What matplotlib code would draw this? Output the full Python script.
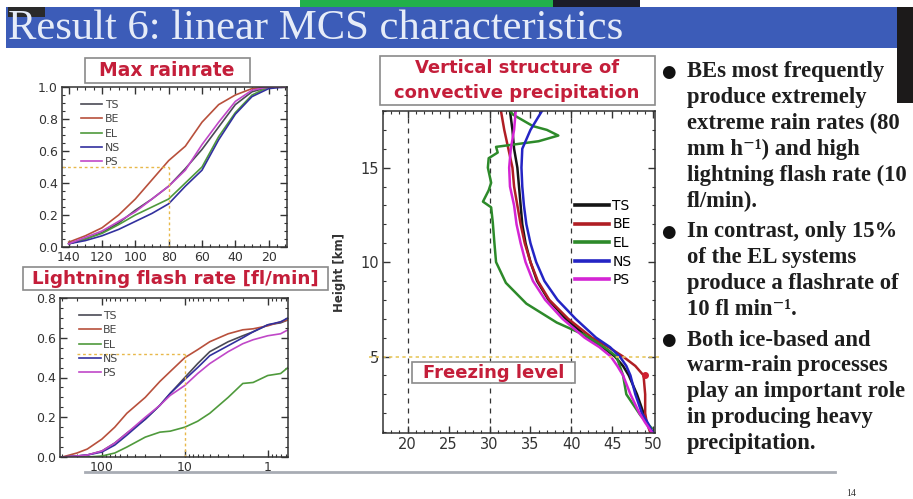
import numpy as np
import matplotlib
matplotlib.use("Agg")
import matplotlib.pyplot as plt
from matplotlib.patches import Rectangle
from matplotlib.ticker import MultipleLocator, LogLocator, NullFormatter, FixedLocator

#
# data
#
names = ["TS", "BE", "EL", "NS", "PS"]

# max rain rate CDF
rain_x = [140, 130, 120, 110, 100, 90, 80, 70, 60, 50, 40, 30, 20, 10]
rain_ts = [0.02, 0.05, 0.09, 0.15, 0.23, 0.30, 0.38, 0.49, 0.61, 0.75, 0.89, 0.97, 1.0, 1.0]
rain_be = [0.03, 0.07, 0.12, 0.20, 0.30, 0.42, 0.54, 0.63, 0.78, 0.89, 0.95, 0.99, 1.0, 1.0]
rain_el = [0.02, 0.05, 0.085, 0.14, 0.20, 0.25, 0.30, 0.40, 0.50, 0.69, 0.84, 0.95, 1.0, 1.0]
rain_ns = [0.02, 0.04, 0.07, 0.11, 0.16, 0.21, 0.27, 0.38, 0.48, 0.67, 0.83, 0.94, 0.99, 1.0]
rain_ps = [0.02, 0.06, 0.10, 0.16, 0.22, 0.30, 0.38, 0.48, 0.64, 0.78, 0.91, 0.98, 1.0, 1.0]

# lightning flash rate CDF
flash_x = [300, 200, 150, 100, 70, 50, 30, 20, 15, 10, 7, 5, 3, 2, 1.5, 1, 0.7, 0.57]
flash_ts = [0, 0.005, 0.01, 0.03, 0.07, 0.12, 0.19, 0.26, 0.32, 0.40, 0.47, 0.53, 0.58, 0.61, 0.63, 0.665, 0.675, 0.69]
flash_be = [0, 0.02, 0.04, 0.09, 0.15, 0.22, 0.30, 0.38, 0.43, 0.50, 0.54, 0.58, 0.62, 0.64, 0.645, 0.66, 0.68, 0.69]
flash_el = [0, 0, 0, 0.005, 0.02, 0.05, 0.10, 0.125, 0.13, 0.15, 0.18, 0.22, 0.30, 0.37, 0.375, 0.41, 0.42, 0.45]
flash_ns = [0, 0.005, 0.01, 0.025, 0.06, 0.11, 0.19, 0.26, 0.32, 0.39, 0.45, 0.51, 0.56, 0.60, 0.63, 0.665, 0.68, 0.70]
flash_ps = [0, 0.005, 0.01, 0.03, 0.07, 0.12, 0.20, 0.26, 0.31, 0.36, 0.42, 0.47, 0.53, 0.57, 0.59, 0.61, 0.62, 0.64]

# vertical profiles (dBZ vs height)
hgt = [1, 1.5, 2, 3, 4, 4.5, 5, 5.5, 6, 7, 8, 9, 10, 11, 12, 13, 14, 15, 16, 17, 18]
dbz_ts = [49.7, 49.2, 48.8, 48.0, 47.0, 46.3, 45.3, 43.8, 42.0, 39.3, 37.2, 35.8, 35.0, 34.4, 34.0, 33.8, 33.6, 33.4, 33.0, 32.8, 32.5]
dbz_be = [49.6, 49.2, 49.0, 49.0, 48.8, 47.8, 46.3, 44.5, 42.5, 39.6, 37.3, 35.9, 35.0, 34.3, 33.8, 33.4, 33.0, 32.8, 32.3, 31.8, 31.4]
dbz_ns = [49.9, 49.3, 48.6, 47.8, 47.2, 46.7, 45.9, 44.7, 43.0, 40.5, 38.3, 36.7, 35.7, 35.0, 34.5, 34.2, 34.0, 33.9, 34.0, 35.0, 36.4]
dbz_ps = [49.8, 49.0, 48.3, 47.2, 46.3, 45.6, 44.8, 43.4, 41.6, 38.9, 36.8, 35.3, 34.4, 33.8, 33.3, 33.0, 32.5, 32.4, 32.6, 33.0, 33.2]
hgt_el = [1.2, 1.9, 3, 4, 5, 5.4, 6.1, 6.8, 7.8, 8.9, 10, 11, 12.1, 12.9, 13.2, 13.8, 14.2, 15, 15.5, 15.8, 16.1, 16.4, 16.7, 17.0, 17.2, 17.8, 18]
dbz_el = [49.8, 48.4, 46.7, 46.3, 45.5, 44.3, 41.8, 38.2, 34.5, 32.0, 30.8, 30.6, 30.4, 30.2, 29.2, 29.9, 30.2, 29.8, 29.9, 31.0, 30.8, 36.0, 38.4, 37.0, 35.3, 32.9, 32.5]

bullets = [
    ["BEs most frequently", "produce extremely", "extreme rain rates (80",
     "mm h\u207b\u00b9) and high", "lightning flash rate (10", "fl/min)."],
    ["In contrast, only 15%", "of the EL systems", "produce a flashrate of",
     "10 fl min\u207b\u00b9."],
    ["Both ice-based and", "warm-rain processes", "play an important role",
     "in producing heavy", "precipitation."],
]

small_colors = ["#4a4a55", "#b8503c", "#4f9a3c", "#32309e", "#c048c8"]
big_colors = ["#151515", "#b01e24", "#2d8a2a", "#2424c4", "#d424d4"]

W, H = 913, 499
fig = plt.figure(figsize=(W / 100, H / 100), dpi=100)
fig.patch.set_facecolor("white")


def px_axes(l, t, r, b):
    return fig.add_axes([l / W, 1 - b / H, (r - l) / W, (b - t) / H])


def px_rect(l, t, r, b, **kw):
    fig.patches.append(Rectangle((l / W, 1 - b / H), (r - l) / W, (b - t) / H,
                                 transform=fig.transFigure, **kw))


def px_text(x, y, s, **kw):
    fig.text(x / W, 1 - y / H, s, **kw)


def style_ax(ax, lsize):
    ax.tick_params(which="both", direction="in", top=True, right=True,
                   labelsize=lsize, colors="#333", pad=3)
    ax.tick_params(which="major", length=5, width=1)
    ax.tick_params(which="minor", length=2.5, width=0.8)
    for s in ax.spines.values():
        s.set_color("#333")
        s.set_linewidth(1.1)


#
# slide banner
#
px_rect(300, 0, 553, 7, color="#22b04a", lw=0)
px_rect(553, 0, 640, 7, color="#1c1c28", lw=0)
px_rect(6, 7, 898, 48, color="#3c5cb8", lw=0)
px_rect(897, 7, 913, 103, color="#1c1a1a", lw=0)
px_rect(8, 7, 45, 17, color="#2a2a2a", lw=0)
px_text(8, 29, "Result 6: linear MCS characteristics", color="#e6ecf8",
        family="Liberation Serif", fontsize=30.7, va="center", ha="left")

#
# max rain rate
#
ax1 = px_axes(62, 87, 287, 247)
rain = [rain_ts, rain_be, rain_el, rain_ns, rain_ps]
for n, y, c in zip(names, rain, small_colors):
    ax1.plot(rain_x, y, color=c, lw=1.2, label=n)
ax1.plot([144, 80], [0.5, 0.5], ls=(0, (2, 2)), color="#e8b84a", lw=1)
ax1.plot([80, 80], [0, 0.5], ls=(0, (2, 2)), color="#e8b84a", lw=1)
ax1.set_xlim(144, 9)
ax1.set_ylim(0, 1.0)
ax1.xaxis.set_major_locator(FixedLocator([140, 120, 100, 80, 60, 40, 20]))
ax1.xaxis.set_minor_locator(MultipleLocator(5))
ax1.yaxis.set_major_locator(MultipleLocator(0.2))
ax1.yaxis.set_minor_locator(MultipleLocator(0.05))
ax1.yaxis.set_major_formatter(matplotlib.ticker.FormatStrFormatter("%.1f"))
style_ax(ax1, 9)
ax1.legend(loc="upper left", bbox_to_anchor=(0.04, 0.98), frameon=False,
           fontsize=7.8, handlelength=2.0, handletextpad=0.2,
           labelspacing=0.4, labelcolor="#444")

#
# lightning flash rate
#
ax2 = px_axes(60, 298, 288, 457)
flash = [flash_ts, flash_be, flash_el, flash_ns, flash_ps]
for n, y, c in zip(names, flash, small_colors):
    ax2.plot(flash_x, y, color=c, lw=1.2, label=n)
ax2.plot([200, 10], [0.52, 0.52], ls=(0, (2, 2)), color="#e8b84a", lw=1)
ax2.plot([10, 10], [0, 0.52], ls=(0, (2, 2)), color="#e8b84a", lw=1)
ax2.set_xscale("log")
ax2.set_xlim(320, 0.57)
ax2.set_ylim(0, 0.8)
ax2.xaxis.set_major_locator(FixedLocator([100, 10, 1]))
ax2.xaxis.set_major_formatter(matplotlib.ticker.FixedFormatter(["100", "10", "1"]))
ax2.xaxis.set_minor_locator(LogLocator(base=10, subs=np.arange(2, 10)))
ax2.xaxis.set_minor_formatter(NullFormatter())
ax2.yaxis.set_major_locator(MultipleLocator(0.2))
ax2.yaxis.set_minor_locator(MultipleLocator(0.05))
ax2.yaxis.set_major_formatter(matplotlib.ticker.FormatStrFormatter("%.1f"))
style_ax(ax2, 9)
ax2.legend(loc="upper left", bbox_to_anchor=(0.04, 0.98), frameon=False,
           fontsize=7.8, handlelength=2.0, handletextpad=0.2,
           labelspacing=0.4, labelcolor="#444")

#
# vertical structure
#
ax3 = px_axes(383, 111, 655, 433)
for x in (20, 30, 40):
    ax3.axvline(x, color="#333", ls=(0, (4, 4)), lw=0.9)
profiles = [(dbz_ts, hgt), (dbz_be, hgt), (dbz_el, hgt_el), (dbz_ns, hgt), (dbz_ps, hgt)]
for n, (x, y), c in zip(names, profiles, big_colors):
    ax3.plot(x, y, color=c, lw=1.8, label=n)
ax3.plot([49.0], [4.0], "o", color="#d02030", ms=4)
ax3.axhline(5, xmin=-0.05, xmax=1.02, color="#e8c860", ls=(0, (2, 2)), lw=1.2,
            clip_on=False)
ax3.set_xlim(17, 50.2)
ax3.set_ylim(0.95, 18)
ax3.xaxis.set_major_locator(MultipleLocator(5))
ax3.xaxis.set_minor_locator(MultipleLocator(1))
ax3.yaxis.set_major_locator(FixedLocator([5, 10, 15]))
ax3.yaxis.set_minor_locator(MultipleLocator(1))
style_ax(ax3, 10.5)
ax3.set_ylabel("Height [km]", fontsize=8.5, fontweight="bold", color="#333",
               labelpad=10)
leg = ax3.legend(loc="center", bbox_to_anchor=(0.81, 0.59), frameon=False,
                 fontsize=10, handlelength=2.4, handletextpad=0.25,
                 labelspacing=0.33)
for line in leg.get_lines():
    line.set_linewidth(2.6)

#
# title boxes
#
red = "#c41e3a"
px_rect(85, 58, 250, 83, fc="white", ec="#8a8a8a", lw=1.2)
px_text(167, 71, "Max rainrate", color=red, fontsize=13.5, fontweight="bold",
        ha="center", va="center")
px_rect(23, 267, 328, 290, fc="white", ec="#8a8a8a", lw=1.2)
px_text(175, 279, "Lightning flash rate [fl/min]", color=red, fontsize=13.2,
        fontweight="bold", ha="center", va="center")
px_rect(380, 56, 655, 105, fc="white", ec="#8a8a8a", lw=1.2)
px_text(517, 68, "Vertical structure of", color=red, fontsize=13,
        fontweight="bold", ha="center", va="center")
px_text(517, 93, "convective precipitation", color=red, fontsize=13,
        fontweight="bold", ha="center", va="center")
px_rect(412, 362, 575, 383, fc="white", ec="#8a8a8a", lw=1.2, zorder=5)
px_text(494, 373, "Freezing level", color=red, fontsize=13,
        fontweight="bold", ha="center", va="center", zorder=6)

#
# bullet text
#
y = 72
for block in bullets:
    px_text(668, y, "\u25cf", fontsize=12, color="#111", ha="center", va="center")
    for line in block:
        px_text(687, y, line, family=["Liberation Serif", "DejaVu Serif"],
                fontweight="bold", fontsize=16.3, color="#1e1e1e",
                ha="left", va="center")
        y += 25.8
    y += 5

#
# footer
#
fig.lines.append(plt.Line2D([85 / W, 835 / W], [1 - 472 / H, 1 - 472 / H],
                            transform=fig.transFigure, color="#a8acb4", lw=2))
px_text(851, 493, "14", fontsize=7, color="#333", ha="center", va="center",
        family="Liberation Serif")

plt.savefig("out.png", dpi=100)
